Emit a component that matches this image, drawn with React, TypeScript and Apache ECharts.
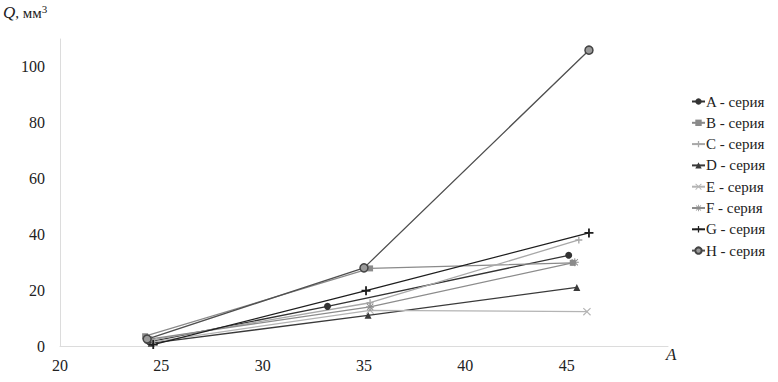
import React, { useEffect, useRef } from "react";
import * as echarts from "echarts";

const seriesNames = ["A - серия", "B - серия", "C - серия", "D - серия", "E - серия", "F - серия", "G - серия", "H - серия"];
const dataA = [[24.4, 1.5], [33.2, 14.2], [45.1, 32.5]];
const dataB = [[24.2, 3.5], [35.3, 27.8], [45.3, 29.8]];
const dataC = [[24.4, 2.0], [35.3, 15.5], [45.6, 38.0]];
const dataD = [[24.5, 1.0], [35.2, 11.0], [45.5, 21.0]];
const dataE = [[24.6, 1.5], [35.3, 12.8], [46.0, 12.3]];
const dataF = [[24.4, 2.5], [35.3, 14.0], [45.4, 30.0]];
const dataG = [[24.6, 0.5], [35.1, 19.8], [46.1, 40.5]];
const dataH = [[24.3, 2.5], [35.0, 28.0], [46.1, 106.0]];
const xTicks = [20, 25, 30, 35, 40, 45];
const yTicks = [0, 20, 40, 60, 80, 100];

const PLUS = "path://M4,0H6V4H10V6H6V10H4V6H0V4H4Z";
const CROSS = "path://M1,0L5,4L9,0L10,1L6,5L10,9L9,10L5,6L1,10L0,9L4,5L0,1Z";
const STAR = "path://M4.4,0H5.6V3.6L8.5,0.7L9.3,1.5L6.4,4.4H10V5.6H6.4L9.3,8.5L8.5,9.3L5.6,6.4V10H4.4V6.4L1.5,9.3L0.7,8.5L3.6,5.6H0V4.4H3.6L0.7,1.5L1.5,0.7L4.4,3.6Z";

const FONT = "Liberation Serif";

export default function App() {
  const ref = useRef<HTMLDivElement>(null);
  useEffect(() => {
    const chart = echarts.init(ref.current!, undefined, { renderer: "svg" });
    const datas = [dataA, dataB, dataC, dataD, dataE, dataF, dataG, dataH];
    const colors = ["#333333", "#8a8a8a", "#a8a8a8", "#3a3a3a", "#b4b4b4", "#8c8c8c", "#1e1e1e", "#505050"];
    const symbols = ["circle", "rect", PLUS, "triangle", CROSS, STAR, PLUS, "circle"];
    const sizes = [7, 6, 7, 7, 8, 8, 9, 8];
    const series = datas.map((d, i) => ({
      name: seriesNames[i],
      type: "line",
      data: d,
      symbol: symbols[i],
      symbolSize: sizes[i],
      lineStyle: { color: colors[i], width: 1.3 },
      itemStyle:
        i === 7
          ? { color: "#9a9a9a", borderColor: "#444", borderWidth: 1.5 }
          : { color: colors[i] },
      showSymbol: true,
    }));
    chart.setOption({
      animation: false,
      textStyle: { fontFamily: FONT },
      grid: { left: 60, right: 110, top: 39, bottom: 36 },
      xAxis: {
        type: "value",
        min: 20,
        max: 50,
        interval: 5,
        axisLine: { show: true, lineStyle: { color: "#dcdcdc", width: 1 } },
        axisTick: { show: false },
        splitLine: { show: false },
        axisLabel: {
          color: "#222",
          fontFamily: FONT,
          fontSize: 16,
          margin: 11,
          formatter: (v: number) => (xTicks.includes(v) ? String(v) : ""),
        },
      },
      yAxis: {
        type: "value",
        min: 0,
        max: 110,
        interval: 20,
        axisLine: { show: true, lineStyle: { color: "#dcdcdc", width: 1 } },
        axisTick: { show: false },
        splitLine: { show: false },
        axisLabel: {
          color: "#222",
          fontFamily: FONT,
          fontSize: 16,
          margin: 15,
          showMaxLabel: false,
          formatter: (v: number) => (yTicks.includes(v) ? String(v) : ""),
        },
      },
      legend: {
        orient: "vertical",
        left: 686,
        top: 89,
        itemWidth: 13,
        itemHeight: 8,
        itemGap: 6.3,
        textStyle: { fontFamily: FONT, fontSize: 15, color: "#222", padding: [0, 0, 0, -4] },
        data: seriesNames,
      },
      graphic: [
        {
          type: "text",
          left: 3,
          top: 3,
          style: {
            text: "{q|Q}{n|, мм}{s|3}",
            rich: {
              q: { fontFamily: FONT, fontStyle: "italic", fontSize: 17, fill: "#222" },
              n: { fontFamily: FONT, fontSize: 15, fill: "#222" },
              s: { fontFamily: FONT, fontSize: 11, fill: "#222", verticalAlign: "top", padding: [0, 0, 8, 0] },
            },
          },
        },
        {
          type: "text",
          left: 666,
          top: 346,
          style: { text: "A", fontFamily: FONT, fontStyle: "italic", fontSize: 17, fill: "#222" },
        },
      ],
      series,
    });
    return () => chart.dispose();
  }, []);
  return <div ref={ref} style={{ width: 778, height: 382, position: "absolute", left: 0, top: 0 }} />;
}
